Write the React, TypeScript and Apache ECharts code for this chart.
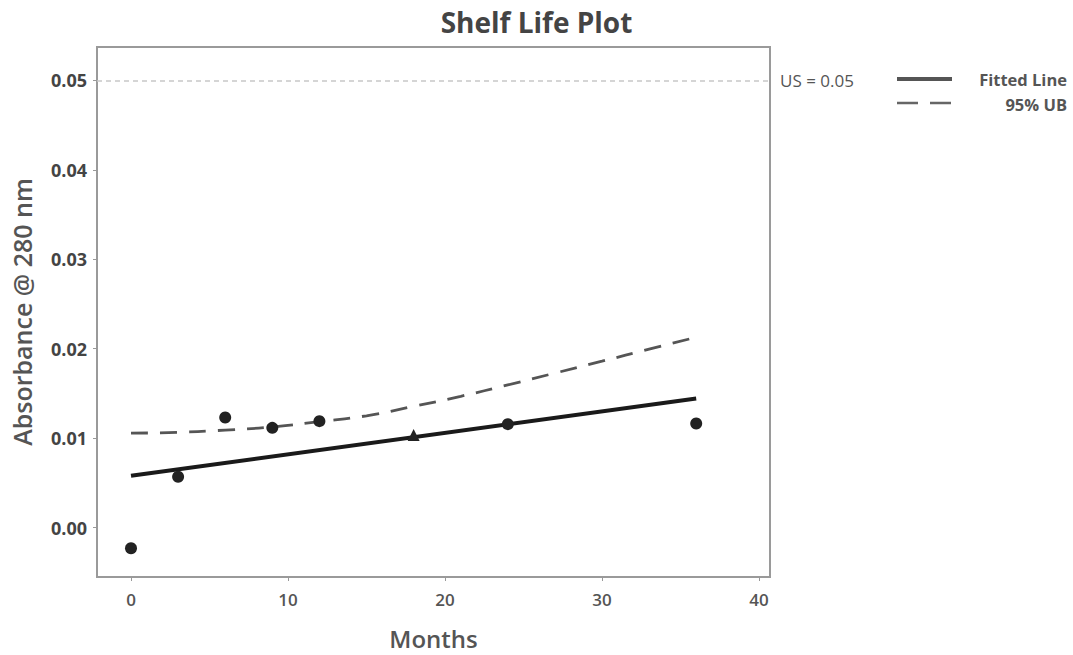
import React, { useEffect, useRef } from "react";
import * as echarts from "echarts";

const obsMonths = [0, 3, 6, 9, 12, 18, 24, 36];
const obsValues = [-0.00232, 0.00568, 0.01231, 0.01115, 0.0119, 0.01034, 0.01156, 0.01164];
const obsSymbols = ["circle", "circle", "circle", "circle", "circle", "triangle", "circle", "circle"];

const fitMonths = [0, 36];
const fitValues = [0.00579, 0.01444];

const ubMonths = [0, 3, 6, 9, 12, 15, 18, 21, 24, 27, 30, 33, 36];
const ubValues = [0.01056, 0.01065, 0.0109, 0.01125, 0.01185, 0.0125, 0.01355, 0.01468, 0.01595, 0.01727, 0.0186, 0.01995, 0.02128];

const specLimit = 0.05;
const xTicks = [0, 10, 20, 30, 40];
const yTicks = [0, 0.01, 0.02, 0.03, 0.04, 0.05];
const legendNames = ["Fitted Line", "95% UB"];

const FONT = "'Open Sans', 'Noto Sans', sans-serif";

export default function App() {
  const ref = useRef<HTMLDivElement>(null);
  useEffect(() => {
    if (!ref.current) return;
    const chart = echarts.init(ref.current, null, { renderer: "svg" });
    chart.setOption({
      animation: false,
      backgroundColor: "#fff",
      title: {
        text: "Shelf Life Plot",
        left: "center",
        top: 3,
        textStyle: { fontFamily: FONT, fontSize: 28, fontWeight: 700, color: "#444" },
      },
      graphic: [
        { type: "line", shape: { x1: 897, y1: 79, x2: 952, y2: 79 }, style: { stroke: "#555", lineWidth: 4 } },
        { type: "line", shape: { x1: 897, y1: 103, x2: 952, y2: 103 }, style: { stroke: "#666", lineWidth: 2.5, lineDash: [21, 12] } },
        {
          type: "text",
          x: 1067,
          y: 79,
          style: { text: legendNames[0], align: "right", verticalAlign: "middle", fontFamily: FONT, fontSize: 16.5, fontWeight: 700, fill: "#555" },
        },
        {
          type: "text",
          x: 1067,
          y: 104,
          style: { text: legendNames[1], align: "right", verticalAlign: "middle", fontFamily: FONT, fontSize: 16.5, fontWeight: 700, fill: "#555" },
        },
      ],
      grid: {
        left: 97,
        right: 303,
        top: 47,
        bottom: 78,
        show: true,
        borderColor: "#9a9a9a",
        borderWidth: 2,
        backgroundColor: "#fff",
      },
      xAxis: {
        type: "value",
        min: -2.166,
        max: 40.7,
        name: "Months",
        nameLocation: "middle",
        nameGap: 49,
        nameTextStyle: { fontFamily: FONT, fontSize: 24, fontWeight: 600, color: "#555" },
        axisLine: { show: false, onZero: false },
        splitLine: { show: false },
        axisTick: { show: true, length: 4, lineStyle: { color: "#999" }, customValues: xTicks },
        axisLabel: {
          customValues: xTicks,
          margin: 14,
          fontFamily: FONT,
          fontSize: 17,
          fontWeight: 600,
          color: "#555",
        },
      },
      yAxis: {
        type: "value",
        min: -0.00553,
        max: 0.05374,
        name: "Absorbance @ 280 nm",
        nameLocation: "middle",
        nameGap: 63,
        nameTextStyle: { fontFamily: FONT, fontSize: 25, fontWeight: 600, color: "#555" },
        axisLine: { show: false, onZero: false },
        splitLine: { show: false },
        axisTick: { show: true, length: 4, lineStyle: { color: "#999" }, customValues: yTicks },
        axisLabel: {
          customValues: yTicks,
          margin: 10,
          formatter: (v: number) => v.toFixed(2),
          fontFamily: FONT,
          fontSize: 18,
          fontWeight: 700,
          color: "#444",
        },
      },
      series: [
        {
          name: legendNames[0],
          type: "line",
          symbol: "none",
          data: fitMonths.map((m, i) => [m, fitValues[i]]),
          lineStyle: { color: "#1a1a1a", width: 4 },
          itemStyle: { color: "#1a1a1a" },
          z: 3,
          markLine: {
            silent: true,
            symbol: "none",
            lineStyle: { color: "#c8c8c8", type: [5, 4], width: 1.5 },
            label: {
              show: true,
              position: "end",
              distance: 10,
              formatter: "US = " + specLimit.toFixed(2),
              fontFamily: FONT,
              fontSize: 17,
              color: "#555",
            },
            data: [{ yAxis: specLimit }],
          },
        },
        {
          name: legendNames[1],
          type: "line",
          symbol: "none",
          smooth: true,
          data: ubMonths.map((m, i) => [m, ubValues[i]]),
          lineStyle: { color: "#555", width: 2.8, type: [17, 12] },
          itemStyle: { color: "#555" },
          z: 3,
        },
        {
          name: "Observations",
          type: "scatter",
          symbolSize: 12,
          data: obsMonths.map((m, i) => ({ value: [m, obsValues[i]], symbol: obsSymbols[i] })),
          itemStyle: { color: "#222", opacity: 1 },
          z: 5,
        },
      ],
    });
    return () => chart.dispose();
  }, []);
  return (
    <div
      ref={ref}
      style={{ position: "fixed", left: 0, top: 0, width: 1073, height: 655 }}
    />
  );
}
